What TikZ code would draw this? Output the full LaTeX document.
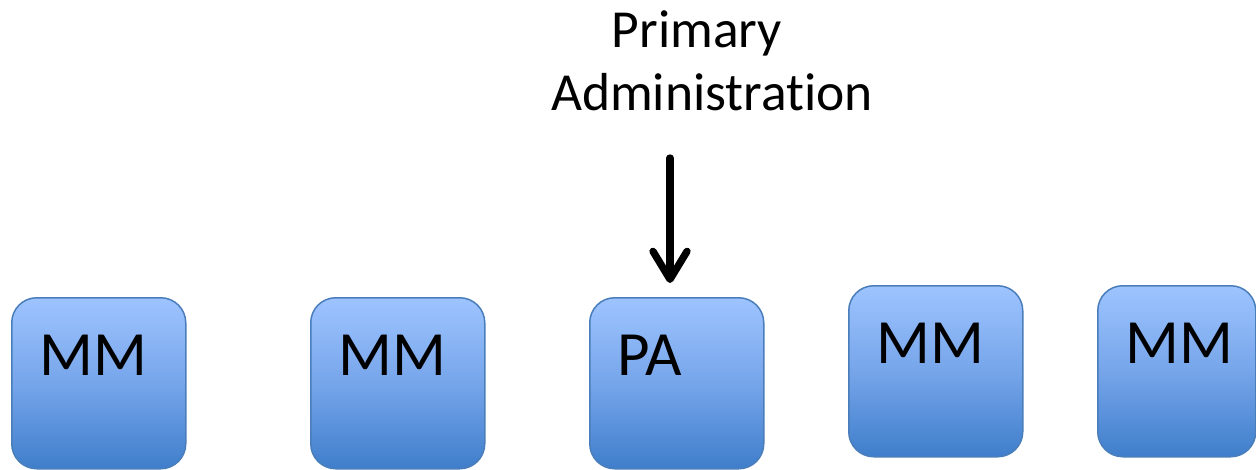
\documentclass[tikz,border=0pt]{standalone}
\usepackage{fontspec}
\setmainfont[RawFeature=-liga]{Carlito}
\usetikzlibrary{arrows.meta}
\definecolor{boxtop}{HTML}{9EC4FF}
\definecolor{boxmid}{HTML}{76A5EA}
\definecolor{boxbot}{HTML}{3F7ECB}
\definecolor{boxedge}{HTML}{4A7EBB}
\tikzset{
  unitbox/.style={draw=boxedge, line width=1.5pt, rounded corners=25pt,
    top color=boxtop, bottom color=boxbot, middle color=boxmid,
    minimum width=174pt, minimum height=171pt, inner sep=0pt, anchor=north west},
  unitlabel/.style={anchor=base west, inner sep=0pt, font=\fontsize{63}{63}\selectfont},
  titletext/.style={align=center, inner sep=0pt, font=\fontsize{53.5}{63}\selectfont},
  pointer/.style={line width=7.3pt, line cap=round,
    -{Straight Barb[length=28pt, width=34pt, line cap=round, line join=round]}}
}
\begin{document}
\begin{tikzpicture}[x=1pt, y=-1pt]
  \useasboundingbox (0,0) rectangle (1256,469);
  % row of units
  \node[unitbox] (u1) at (11,297) {};
  \node[unitbox] (u2) at (310,297) {};
  \node[unitbox] (u3) at (589,297) {};
  \node[unitbox] (u4) at (848,285) {};
  \node[unitbox, minimum width=158pt] (u5) at (1097,285) {};
  \node[unitlabel] (l1) at (39,375) {MM};
  \node[unitlabel] (l2) at (338,375) {MM};
  \node[unitlabel] (l3) at (617,375) {PA};
  \node[unitlabel] (l4) at (876,363) {MM};
  \node[unitlabel] (l5) at (1125,363) {MM};
  % heading and arrow into the administrating unit
  \node[titletext, anchor=base] (title) at (712,110) {Primary\hspace*{30pt}\\Administration};
  \coordinate (arrowstart) at (670,158);
  \coordinate (arrowtip) at (670,283);
  \draw[pointer] (arrowstart) -- (arrowtip);
\end{tikzpicture}
\end{document}
